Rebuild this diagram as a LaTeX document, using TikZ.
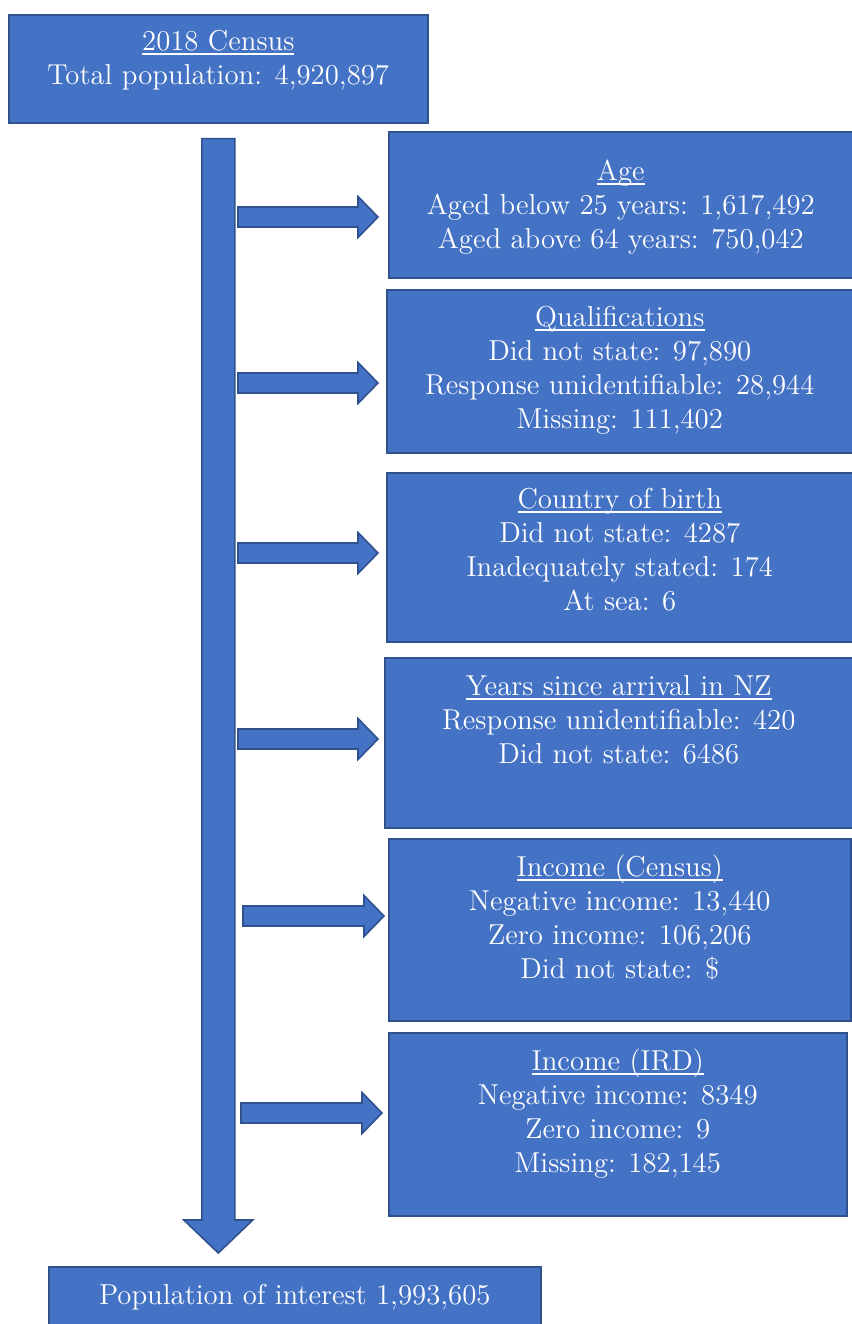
\documentclass[tikz,border=0pt]{standalone}
\usetikzlibrary{calc}
\definecolor{boxfill}{HTML}{4472C4}
\definecolor{boxline}{HTML}{2F528F}
\newcommand{\headtext}[1]{\setbox0\hbox{#1}\rlap{\rule[-2pt]{\wd0}{0.7pt}}\box0}
\tikzset{
  panel/.style n args={3}{draw=boxline, fill=boxfill, line width=0.8pt, text=white, inner sep=0pt,
    font=\fontsize{14.4}{17}\selectfont,
    execute at begin node={\begin{minipage}[c][#2][t]{#1}\centering\rule{0pt}{#3}},
    execute at end node={\end{minipage}}},
  blockarrow/.style n args={3}{draw=boxline, fill=boxfill, line width=0.8pt,
    to path={($(\tikztostart)!#1!90:(\tikztotarget)$)
      -- ($(\tikztotarget)!#3!(\tikztostart)!#1!-90:(\tikztostart)$)
      -- ($(\tikztotarget)!#3!(\tikztostart)!#2!-90:(\tikztostart)$)
      -- (\tikztotarget)
      -- ($(\tikztotarget)!#3!(\tikztostart)!#2!90:(\tikztostart)$)
      -- ($(\tikztotarget)!#3!(\tikztostart)!#1!90:(\tikztostart)$)
      -- ($(\tikztostart)!#1!-90:(\tikztotarget)$) -- cycle}},
  harrow/.style={blockarrow={5pt}{10.25pt}{10pt}},
  varrow/.style={blockarrow={8.25pt}{17.25pt}{16.5pt}}
}

\begin{document}
\begin{tikzpicture}[x=0.5pt, y=0.5pt]
\clip (0,0) rectangle (852,-1324);
\node[panel={209.5pt}{54pt}{18pt}, anchor=north west] (census) at (8,-14) {\headtext{2018 Census}\\Total population: 4,920,897};
\node[panel={232pt}{73pt}{24.5pt}, anchor=north west] (age) at (388,-131) {\headtext{Age}\\Aged below 25 years: 1,617,492\\Aged above 64 years: 750,042};
\node[panel={233pt}{81.5pt}{18.5pt}, anchor=north west] (qual) at (386,-289) {\headtext{Qualifications}\\Did not state: 97,890\\Response unidentifiable: 28,944\\Missing: 111,402};
\node[panel={233pt}{84.5pt}{18pt}, anchor=north west] (birth) at (386,-472) {\headtext{Country of birth}\\Did not state: 4287\\Inadequately stated: 174\\At sea: 6};
\node[panel={234pt}{85pt}{19pt}, anchor=north west] (years) at (384,-657) {\headtext{Years since arrival in NZ}\\Response unidentifiable: 420\\Did not state: 6486};
\node[panel={231pt}{91pt}{19pt}, anchor=north west] (inccensus) at (388,-838) {\headtext{Income (Census)}\\Negative income: 13,440\\Zero income: 106,206\\Did not state: \$};
\node[panel={229pt}{91.5pt}{19pt}, anchor=north west] (incird) at (388,-1032) {\headtext{Income (IRD)}\\Negative income: 8349\\Zero income: 9\\Missing: 182,145};
\node[panel={246pt}{54pt}{19pt}, anchor=north west] (pop) at (48,-1266) {Population of interest 1,993,605};

% main flow
\coordinate (trunktop) at ($(census.south)+(0,-15)$);
\coordinate (trunkend) at ($(census.south |- pop.north)+(0,13)$);
\draw[varrow] (trunktop) to (trunkend);

% exclusions
\coordinate (t1) at (238,-217);
\coordinate (e1) at ($(t1 -| age.west)+(-10,0)$);
\coordinate (t2) at (238,-383);
\coordinate (e2) at ($(t2 -| qual.west)+(-8,0)$);
\coordinate (t3) at (238,-553);
\coordinate (e3) at ($(t3 -| birth.west)+(-8,0)$);
\coordinate (t4) at (238,-739);
\coordinate (e4) at ($(t4 -| years.west)+(-6,0)$);
\coordinate (t5) at (243,-916);
\coordinate (e5) at ($(t5 -| inccensus.west)+(-4,0)$);
\coordinate (t6) at (241,-1113);
\coordinate (e6) at ($(t6 -| incird.west)+(-6,0)$);
\draw[harrow] (t1) to (e1);
\draw[harrow] (t2) to (e2);
\draw[harrow] (t3) to (e3);
\draw[harrow] (t4) to (e4);
\draw[harrow] (t5) to (e5);
\draw[harrow] (t6) to (e6);
\end{tikzpicture}
\end{document}
